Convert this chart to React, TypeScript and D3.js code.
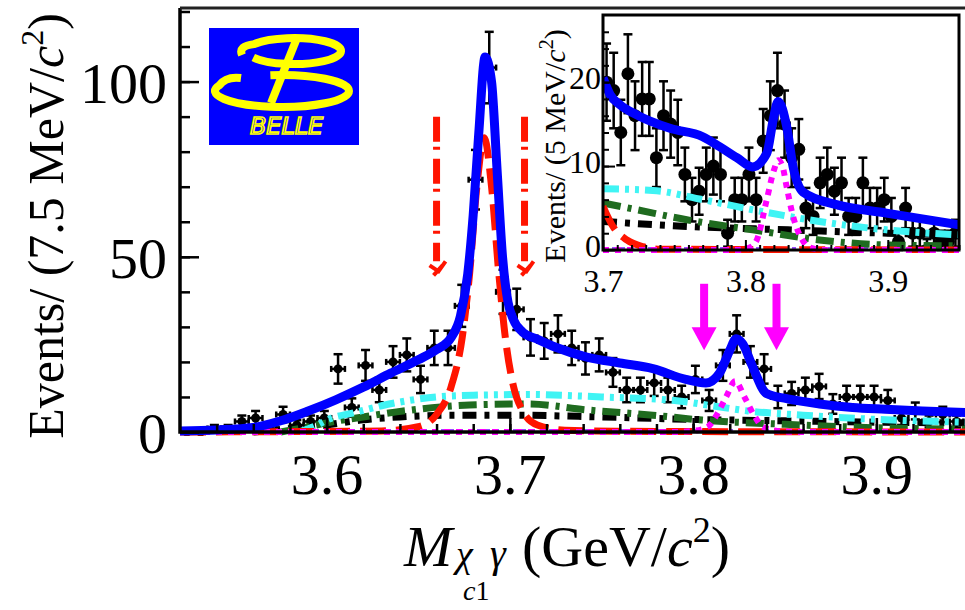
import React, { useEffect, useRef } from "react"
import * as d3 from "d3"

// main histogram: 7.5 MeV bins from 3.52 GeV
const mainBinStart = 3.52
const mainBinWidth = 0.0075
const mainCounts = [0, 0, 1, 1, 3, 4, 1, 5, 2, 3, 4, 18, 7, 19, 12, 20, 22, 15, 24, 24, 36, 72, 104, 40, 35, 27, 26, 28, 24, 21, 22, 17, 12, 12, 14, 12, 10, 15, 9, 19, 28, 20, 18, 10, 11, 12, 13, 8, 10, 10, 10, 9, 4, 6, 3, 5, 3]
const mainErrors = [1, 1, 1, 1, 1.7, 2, 1, 2.2, 1.4, 1.7, 2, 4.2, 2.6, 4.4, 3.5, 4.5, 4.7, 3.9, 4.9, 4.9, 6, 8.5, 10.2, 6.3, 5.9, 5.2, 5.1, 5.3, 4.9, 4.6, 4.7, 4.1, 3.5, 3.5, 3.7, 3.5, 3.2, 3.9, 3, 4.4, 5.3, 4.5, 4.2, 3.2, 3.3, 3.5, 3.6, 2.8, 3.2, 3.2, 3.2, 3, 2, 2.4, 1.7, 2.2, 1.7]

// inset histogram: 5 MeV bins from 3.70 GeV
const insetBinStart = 3.7
const insetBinWidth = 0.005
const insetCounts = [20, 19, 14, 21, 16, 18, 18, 11, 16, 15, 14, 9, 6, 7, 9, 10, 9, 2, 6, 6, 9, 6, 13, 16, 19, 15, 11, 12, 5, 4, 8, 9, 7, 8, 4, 4, 8, 5, 5, 6, 4, 1, 5, 2, 2, 0, 2, 1, 1, 2]
const insetErrors = [4.6, 4.5, 3.9, 4.7, 4.1, 4.4, 4.4, 3.5, 4.1, 4, 3.9, 3.2, 2.6, 2.8, 3.2, 3.4, 3.2, 1.6, 2.6, 2.6, 3.2, 2.6, 3.8, 4.1, 4.5, 4, 3.5, 3.6, 2.4, 2.2, 3, 3.2, 2.8, 3, 2.2, 2.2, 3, 2.4, 2.4, 2.6, 2.2, 1.3, 2.4, 1.6, 1.6, 1.3, 1.6, 1.3, 1.3, 1.6]

// fit components, main plot
const blueMainX = [3.52, 3.54, 3.56, 3.575, 3.59, 3.605, 3.62, 3.635, 3.65, 3.66, 3.668, 3.673, 3.677, 3.68, 3.683, 3.6865, 3.69, 3.693, 3.696, 3.699, 3.702, 3.707, 3.715, 3.725, 3.742, 3.76, 3.778, 3.796, 3.807, 3.8144, 3.82, 3.8235, 3.827, 3.8325, 3.84, 3.851, 3.869, 3.887, 3.905, 3.925, 3.95]
const blueMainY = [0.3, 0.6, 1.3, 3.2, 6, 9.2, 12.8, 16.8, 20.6, 23.5, 27, 33, 45, 62, 85, 107, 100, 75, 50, 37, 32, 28.5, 26.5, 24.2, 21.4, 19.7, 18.1, 15, 14, 16.8, 23.3, 26.6, 25.2, 18.6, 11, 9.5, 8, 7, 6.5, 6, 5.5]
const redMainX = [3.52, 3.63, 3.65, 3.66, 3.668, 3.674, 3.678, 3.682, 3.686, 3.69, 3.694, 3.698, 3.702, 3.707, 3.715, 3.73, 3.76, 3.95]
const redMainY = [0, 0.3, 1.5, 5, 13, 27, 45, 70, 84, 70, 45, 25, 13, 6, 2, 0.5, 0.2, 0]
const cyanMainX = [3.585, 3.595, 3.6, 3.615, 3.63, 3.645, 3.66, 3.68, 3.71, 3.75, 3.79, 3.81, 3.83, 3.86, 3.9, 3.95]
const cyanMainY = [0, 2, 3.4, 5.5, 7.5, 9, 10, 10.5, 10.7, 10, 9, 7.5, 6, 4.8, 3.6, 2.8]
const greenMainX = [3.575, 3.59, 3.6, 3.62, 3.645, 3.678, 3.71, 3.742, 3.778, 3.805, 3.85, 3.9, 3.95]
const greenMainY = [0, 1.5, 2.6, 4.3, 6.2, 7.7, 8, 6.3, 4.8, 3.4, 2.2, 1.2, 0.8]
const blackMainX = [3.56, 3.58, 3.6, 3.62, 3.64, 3.67, 3.7, 3.75, 3.8, 3.85, 3.9, 3.95]
const blackMainY = [0, 1, 2, 3.5, 4.3, 4.8, 4.8, 4.3, 3.6, 3.2, 2.8, 2.6]
const magentaMainX = [3.52, 3.79, 3.8, 3.808, 3.813, 3.818, 3.823, 3.828, 3.833, 3.838, 3.846, 3.86, 3.95]
const magentaMainY = [0, 0, 0.3, 1.5, 5, 10, 14.5, 10, 5, 1.5, 0.3, 0, 0]

// fit components, inset
const blueInX = [3.7, 3.705, 3.712, 3.7237, 3.747, 3.77, 3.782, 3.794, 3.805, 3.815, 3.8195, 3.823, 3.829, 3.8335, 3.8405, 3.864, 3.899, 3.95]
const blueInY = [20.5, 18.5, 17.3, 16.1, 14.5, 13.5, 12.3, 11, 9.9, 11.5, 15.5, 17.7, 14.7, 9.9, 6.9, 5.4, 4.4, 3]
const cyanInX = [3.7, 3.735, 3.77, 3.805, 3.852, 3.899, 3.95]
const cyanInY = [7.3, 7.1, 6, 4.8, 3.4, 2.4, 1.8]
const greenInX = [3.7, 3.7237, 3.7588, 3.805, 3.852, 3.899, 3.95]
const greenInY = [5.6, 4.8, 3.6, 2.4, 1.2, 0.6, 0.5]
const blackInX = [3.7, 3.76, 3.83, 3.9, 3.95]
const blackInY = [3.4, 2.8, 2.4, 2, 1.8]
const redInX = [3.7, 3.707, 3.7167, 3.728, 3.74, 3.95]
const redInY = [5.2, 2.8, 1.2, 0.4, 0.1, 0]
const magentaInX = [3.7, 3.795, 3.803, 3.808, 3.815, 3.82, 3.823, 3.826, 3.829, 3.8335, 3.84, 3.845, 3.855, 3.95]
const magentaInY = [0, 0, 0.3, 1.2, 6, 9.5, 10.7, 10, 7.5, 4, 1.2, 0.3, 0, 0]

// signal windows
const psiWindow = [3.66, 3.708]
const xWindow = [3.806, 3.8455]

const mainXTicks = [3.6, 3.7, 3.8, 3.9]
const mainYTicks = [0, 50, 100]
const insetXTicks = [3.7, 3.8, 3.9]
const insetYTicks = [0, 10, 20]

const serif = "'Liberation Serif', 'Times New Roman', serif"
const W = 965
const H = 610

const App = () => {
	const svgRef = useRef<SVGSVGElement>(null)

	useEffect(() => {
		const svg = d3.select(svgRef.current)
		svg.selectAll("*").remove()

		const main = { left: 180, right: 968, top: 8, bottom: 432 }
		const inset = { left: 603, right: 959, top: 15, bottom: 250 }

		const x = d3.scaleLinear().domain([3.52, 3.95]).range([main.left, main.right])
		const y = d3.scaleLinear().domain([0, 121]).range([main.bottom, main.top])
		const xi = d3.scaleLinear().domain([3.7, 3.95]).range([inset.left, inset.right])
		const yi = d3.scaleLinear().domain([0, 28]).range([inset.bottom, inset.top])

		const defs = svg.append("defs")
		defs.append("clipPath").attr("id", "clipMain").append("rect")
			.attr("x", main.left).attr("y", main.top)
			.attr("width", main.right - main.left).attr("height", main.bottom - main.top + 4)
		defs.append("clipPath").attr("id", "clipInset").append("rect")
			.attr("x", inset.left).attr("y", inset.top)
			.attr("width", inset.right - inset.left).attr("height", inset.bottom - inset.top + 3)

		const styles = {
			blue: { color: "#0000ff", width: 9, dash: null },
			red: { color: "#ff1400", width: 7, dash: "26 10" },
			cyan: { color: "#40f4f4", width: 7, dash: "16 6 4 6 4 6" },
			green: { color: "#1f6b1f", width: 7, dash: "18 7 4 7" },
			black: { color: "#000000", width: 7, dash: "14 8 5 8" },
			magenta: { color: "#ff00ff", width: 6, dash: "6 6" },
		}

		const drawCurve = (g, xs, ys, sx, sy, st) => {
			const line = d3.line()
				.x((d) => sx(d[0]))
				.y((d) => sy(d[1]))
				.curve(d3.curveMonotoneX)
			g.append("path")
				.attr("d", line(xs.map((v, i) => [v, ys[i]])))
				.attr("fill", "none")
				.attr("stroke", st.color)
				.attr("stroke-width", st.width)
				.attr("stroke-dasharray", st.dash)
				.attr("stroke-linejoin", "round")
		}

		const drawPoints = (g, counts, errors, start, width, sx, sy, r, cap, withXBars) => {
			counts.forEach((v, i) => {
				const c = start + width * (i + 0.5)
				const cx = sx(c)
				const lo = sy(Math.max(0, v - errors[i]))
				const hi = sy(v + errors[i])
				const cy = sy(v)
				const p = g.append("g").attr("stroke", "#000").attr("stroke-width", 2.5)
				p.append("line").attr("x1", cx).attr("x2", cx).attr("y1", lo).attr("y2", hi)
				p.append("line").attr("x1", cx - cap).attr("x2", cx + cap).attr("y1", hi).attr("y2", hi)
				p.append("line").attr("x1", cx - cap).attr("x2", cx + cap).attr("y1", lo).attr("y2", lo)
				if (withXBars) {
					const xl = sx(c - width / 2)
					const xr = sx(c + width / 2)
					p.append("line").attr("x1", xl).attr("x2", xr).attr("y1", cy).attr("y2", cy)
					p.append("line").attr("x1", xl).attr("x2", xl).attr("y1", cy - 3).attr("y2", cy + 3)
					p.append("line").attr("x1", xr).attr("x2", xr).attr("y1", cy - 3).attr("y2", cy + 3)
				}
				g.append("circle").attr("cx", cx).attr("cy", cy).attr("r", r).attr("fill", "#000")
			})
		}

		// ---------- main plot ----------
		const gm = svg.append("g").attr("clip-path", "url(#clipMain)")
		drawPoints(gm, mainCounts, mainErrors, mainBinStart, mainBinWidth, x, y, 4.5, 4.5, true)
		gm.append("line")
			.attr("x1", main.left).attr("x2", main.right)
			.attr("y1", y(0) - 1).attr("y2", y(0) - 1)
			.attr("stroke", "#9a4dff").attr("stroke-width", 4).attr("stroke-dasharray", "4 5")
		drawCurve(gm, blackMainX, blackMainY, x, y, styles.black)
		drawCurve(gm, greenMainX, greenMainY, x, y, styles.green)
		drawCurve(gm, cyanMainX, cyanMainY, x, y, styles.cyan)
		drawCurve(gm, redMainX, redMainY, x, y, styles.red)
		drawCurve(gm, magentaMainX, magentaMainY, x, y, styles.magenta)
		drawCurve(gm, blueMainX, blueMainY, x, y, styles.blue)

		// red dash-dot window arrows around psi(2S)
		psiWindow.forEach((w) => {
			const ax = x(w)
			const y1 = y(90)
			const y2 = y(47)
			svg.append("line")
				.attr("x1", ax).attr("x2", ax).attr("y1", y1).attr("y2", y2 - 6)
				.attr("stroke", "#ff1400").attr("stroke-width", 7)
				.attr("stroke-dasharray", "25 5 3 9")
			svg.append("path")
				.attr("d", `M${ax - 7},${y2 - 2} L${ax + 2},${y2 + 4} L${ax + 9},${y2 - 6} M${ax - 3},${y2 + 8} L${ax + 6},${y2 - 2}`)
				.attr("fill", "none").attr("stroke", "#ff1400").attr("stroke-width", 4)
		})

		// magenta window arrows around X(3823)
		xWindow.forEach((w) => {
			const ax = x(w)
			const top = y(42.3)
			const tip = y(23.3)
			svg.append("rect")
				.attr("x", ax - 4).attr("y", top).attr("width", 8).attr("height", tip - top - 20)
				.attr("fill", "#ff00ff")
			svg.append("path")
				.attr("d", `M${ax - 12.5},${tip - 23} L${ax + 12.5},${tip - 23} L${ax},${tip} Z`)
				.attr("fill", "#ff00ff")
		})

		// main axes
		const xMinor = d3.range(3.54, 3.95, 0.02)
		const yMinor = d3.range(10, 121, 10)
		svg.append("g")
			.attr("transform", `translate(0,${main.bottom})`)
			.call(d3.axisBottom(x).tickValues(xMinor).tickSize(-8).tickSizeOuter(0).tickFormat(() => ""))
			.call((g) => g.select(".domain").remove())
			.call((g) => g.selectAll("line").attr("stroke-width", 2.5))
		svg.append("g")
			.attr("transform", `translate(0,${main.bottom})`)
			.call(d3.axisBottom(x).tickValues(mainXTicks).tickSize(-14).tickSizeOuter(0).tickPadding(21).tickFormat(d3.format(".1f")))
			.call((g) => g.select(".domain").remove())
			.call((g) => g.selectAll("line").attr("stroke-width", 2.5))
			.call((g) => g.selectAll("text").attr("font-family", serif).attr("font-size", 58).attr("fill", "#000"))
		svg.append("g")
			.attr("transform", `translate(${main.left},0)`)
			.call(d3.axisLeft(y).tickValues(yMinor).tickSize(-10).tickSizeOuter(0).tickFormat(() => ""))
			.call((g) => g.select(".domain").remove())
			.call((g) => g.selectAll("line").attr("stroke-width", 2.5))
		svg.append("g")
			.attr("transform", `translate(${main.left},0)`)
			.call(d3.axisLeft(y).tickValues(mainYTicks).tickSize(-19).tickSizeOuter(0).tickPadding(13))
			.call((g) => g.select(".domain").remove())
			.call((g) => g.selectAll("line").attr("stroke-width", 2.5))
			.call((g) => g.selectAll("text").attr("font-family", serif).attr("font-size", 58).attr("fill", "#000").attr("dy", "0.36em"))
		svg.append("path")
			.attr("d", `M${main.left},${main.top} V${main.bottom} H${W}`)
			.attr("fill", "none").attr("stroke", "#000").attr("stroke-width", 3.5)
		svg.append("line")
			.attr("x1", main.left).attr("x2", W).attr("y1", main.top).attr("y2", main.top)
			.attr("stroke", "#222").attr("stroke-width", 3)

		// axis titles
		const yt = svg.append("text")
			.attr("transform", `translate(63,226) rotate(-90)`)
			.attr("text-anchor", "middle")
			.attr("font-family", serif).attr("font-size", 50)
		yt.append("tspan").text("Events/ (7.5 MeV/")
		yt.append("tspan").attr("font-style", "italic").text("c")
		yt.append("tspan").attr("font-size", 32).attr("dy", -20).text("2")
		yt.append("tspan").attr("dy", 20).text(")")

		const xt = svg.append("g").attr("font-family", serif)
		xt.append("text").attr("x", 404).attr("y", 566).attr("font-size", 58).attr("font-style", "italic").text("M")
		xt.append("text").attr("x", 456).attr("y", 567).attr("font-size", 38).attr("font-style", "italic").text("χ")
		const sub = xt.append("text").attr("x", 463).attr("y", 600).attr("font-size", 28)
		sub.append("tspan").attr("font-style", "italic").text("c")
		sub.append("tspan").text("1")
		xt.append("text").attr("x", 490).attr("y", 567).attr("font-size", 40).attr("font-style", "italic").text("γ")
		const unit = xt.append("text").attr("x", 522).attr("y", 566).attr("font-size", 58)
		unit.append("tspan").text("(GeV/")
		unit.append("tspan").attr("font-style", "italic").text("c")
		unit.append("tspan").attr("font-size", 36).attr("dy", -24).text("2")
		unit.append("tspan").attr("dy", 24).text(")")

		// ---------- Belle logo ----------
		const logo = svg.append("g")
		logo.append("rect").attr("x", 209).attr("y", 28).attr("width", 150).attr("height", 117).attr("fill", "#0000ff")
		const ell = (cx, cy, rx, ry, t) => [cx + rx * Math.cos((t * Math.PI) / 180), cy + ry * Math.sin((t * Math.PI) / 180)]
		const [a1x, a1y] = ell(294, 51, 47, 13, 150)
		const [a2x, a2y] = ell(294, 51, 47, 13, 212)
		logo.append("path")
			.attr("d", `M${a1x},${a1y} A47,13 0 1 0 ${a2x},${a2y} Q238,46 242,55`)
			.attr("fill", "none").attr("stroke", "#ffff00").attr("stroke-width", 8)
		const [b1x, b1y] = ell(282, 91, 67, 16, -100)
		const [b2x, b2y] = ell(282, 91, 67, 16, 200)
		logo.append("path")
			.attr("d", `M${b1x},${b1y} A67,16 0 1 1 ${b2x},${b2y} Q226,76 241,78`)
			.attr("fill", "none").attr("stroke", "#ffff00").attr("stroke-width", 8)
		logo.append("line").attr("x1", 297).attr("y1", 38).attr("x2", 271).attr("y2", 103)
			.attr("stroke", "#ffff00").attr("stroke-width", 8)
		logo.append("text").attr("x", 250).attr("y", 134)
			.attr("font-family", "'DejaVu Sans', sans-serif").attr("font-style", "italic")
			.attr("font-size", 23).attr("textLength", 73).attr("lengthAdjust", "spacingAndGlyphs")
			.attr("fill", "none").attr("stroke", "#ffff00").attr("stroke-width", 1.6)
			.text("BELLE")

		// ---------- inset ----------
		svg.append("rect")
			.attr("x", inset.left).attr("y", inset.top)
			.attr("width", inset.right - inset.left).attr("height", inset.bottom - inset.top)
			.attr("fill", "#fff")
		const gi = svg.append("g").attr("clip-path", "url(#clipInset)")
		drawPoints(gi, insetCounts, insetErrors, insetBinStart, insetBinWidth, xi, yi, 6.5, 4.5, false)
		gi.append("line")
			.attr("x1", inset.left).attr("x2", inset.right)
			.attr("y1", yi(0) - 1).attr("y2", yi(0) - 1)
			.attr("stroke", "#9a4dff").attr("stroke-width", 4).attr("stroke-dasharray", "4 5")
		drawCurve(gi, blackInX, blackInY, xi, yi, styles.black)
		drawCurve(gi, greenInX, greenInY, xi, yi, styles.green)
		drawCurve(gi, cyanInX, cyanInY, xi, yi, styles.cyan)
		drawCurve(gi, redInX, redInY, xi, yi, styles.red)
		drawCurve(gi, magentaInX, magentaInY, xi, yi, styles.magenta)
		drawCurve(gi, blueInX, blueInY, xi, yi, styles.blue)

		svg.append("g")
			.attr("transform", `translate(0,${inset.bottom})`)
			.call(d3.axisBottom(xi).tickValues(d3.range(3.71, 3.95, 0.01)).tickSize(-5).tickSizeOuter(0).tickFormat(() => ""))
			.call((g) => g.select(".domain").remove())
			.call((g) => g.selectAll("line").attr("stroke-width", 2))
		svg.append("g")
			.attr("transform", `translate(0,${inset.bottom})`)
			.call(d3.axisBottom(xi).tickValues(insetXTicks).tickSize(-10).tickSizeOuter(0).tickPadding(19).tickFormat(d3.format(".1f")))
			.call((g) => g.select(".domain").remove())
			.call((g) => g.selectAll("line").attr("stroke-width", 2))
			.call((g) => g.selectAll("text").attr("font-family", serif).attr("font-size", 32).attr("fill", "#000"))
		svg.append("g")
			.attr("transform", `translate(${inset.left},0)`)
			.call(d3.axisLeft(yi).tickValues(d3.range(2, 28, 2)).tickSize(-6).tickSizeOuter(0).tickFormat(() => ""))
			.call((g) => g.select(".domain").remove())
			.call((g) => g.selectAll("line").attr("stroke-width", 2))
		svg.append("g")
			.attr("transform", `translate(${inset.left},0)`)
			.call(d3.axisLeft(yi).tickValues(insetYTicks).tickSize(-12).tickSizeOuter(0).tickPadding(2))
			.call((g) => g.select(".domain").remove())
			.call((g) => g.selectAll("line").attr("stroke-width", 2))
			.call((g) => g.selectAll("text").attr("font-family", serif).attr("font-size", 32).attr("fill", "#000").attr("dy", "0.19em"))
		svg.append("rect")
			.attr("x", inset.left).attr("y", inset.top)
			.attr("width", inset.right - inset.left).attr("height", inset.bottom - inset.top)
			.attr("fill", "none").attr("stroke", "#000").attr("stroke-width", 3)

		const it = svg.append("text")
			.attr("transform", `translate(565,146) rotate(-90)`)
			.attr("text-anchor", "middle")
			.attr("font-family", serif).attr("font-size", 30)
		it.append("tspan").text("Events/ (5 MeV/")
		it.append("tspan").attr("font-style", "italic").text("c")
		it.append("tspan").attr("font-size", 20).attr("dy", -12).text("2")
		it.append("tspan").attr("dy", 12).text(")")
	}, [])

	return (
		<svg
			ref={svgRef}
			width={W}
			height={H}
			style={{ position: "absolute", left: 0, top: 0, background: "#fff" }}
		/>
	)
}

export default App
